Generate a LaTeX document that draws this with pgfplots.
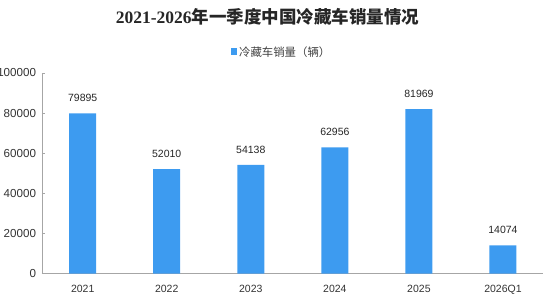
\documentclass[border=0pt]{standalone}
\usepackage{pgfplots}
\pgfplotsset{compat=1.18}
\usepackage{fontspec}
\setmainfont{Liberation Sans}
\newfontfamily\cjk{Noto Sans CJK SC}
\newfontfamily\titleserif{Liberation Serif}

\definecolor{barblue}{HTML}{3D9BF0}
\definecolor{axisgray}{HTML}{A6A6A6}

\begin{document}
\begin{tikzpicture}
\begin{axis}[
  at={(42bp,28.5bp)}, anchor=south west,
  scale only axis,
  width=501bp, height=200.5bp,
  xmin=-0.484, xmax=5.476,
  ymin=0, ymax=100000,
  ytick={0,20000,40000,60000,80000,100000},
  xtick={0,1,2,3,4,5},
  xticklabels={2021,2022,2023,2024,2025,2026Q1},
  scaled y ticks=false,
  /pgf/number format/fixed,
  /pgf/number format/precision=0,
  /pgf/number format/1000 sep={},
  /pgf/number format/assume math mode=true,
  axis lines*=left,
  axis line style={axisgray, line width=0.8bp},
  y axis line style={-},
  x axis line style={-},
  ytick style={axisgray, line width=0.8bp},
  ytick pos=left,
  tick align=inside,
  major tick length=3.5bp,
  xtick style={draw=none},
  tick label style={font=\fontsize{10.5bp}{12bp}\selectfont, text=black!80},
  yticklabel style={font=\fontsize{11.6bp}{13bp}\selectfont, xshift=-2.5bp},
  xticklabel style={yshift=-8bp},
  title={{\titleserif\bfseries 2021-2026}{\cjk\bfseries 年一季度中国冷藏车销量情况}},
  title style={at={(0.45,1.25)}, anchor=center, font=\fontsize{17.5bp}{20bp}\selectfont, text=black!85},
  legend style={at={(0.478,1.105)}, anchor=center, draw=none, fill=none,
    font=\fontsize{11.4bp}{13bp}\selectfont\cjk, text=black!75,
    inner sep=0pt},
  legend image code/.code={\fill[barblue] (0bp,-3bp) rectangle (6.5bp,3.5bp);},
  clip=false,
]
\addplot[ybar, bar width=27bp, fill=barblue, draw=none,
  nodes near coords,
  every node near coord/.append style={font=\fontsize{10.5bp}{12bp}\selectfont, text=black!85, yshift=8bp}]
  coordinates {(0,79895) (1,52010) (2,54138) (3,62956) (4,81969) (5,14074)};
\addlegendentry{冷藏车销量（辆）}
\end{axis}
\pgfresetboundingbox
\useasboundingbox (0,0) rectangle (558bp,302bp);
\end{tikzpicture}
\end{document}
